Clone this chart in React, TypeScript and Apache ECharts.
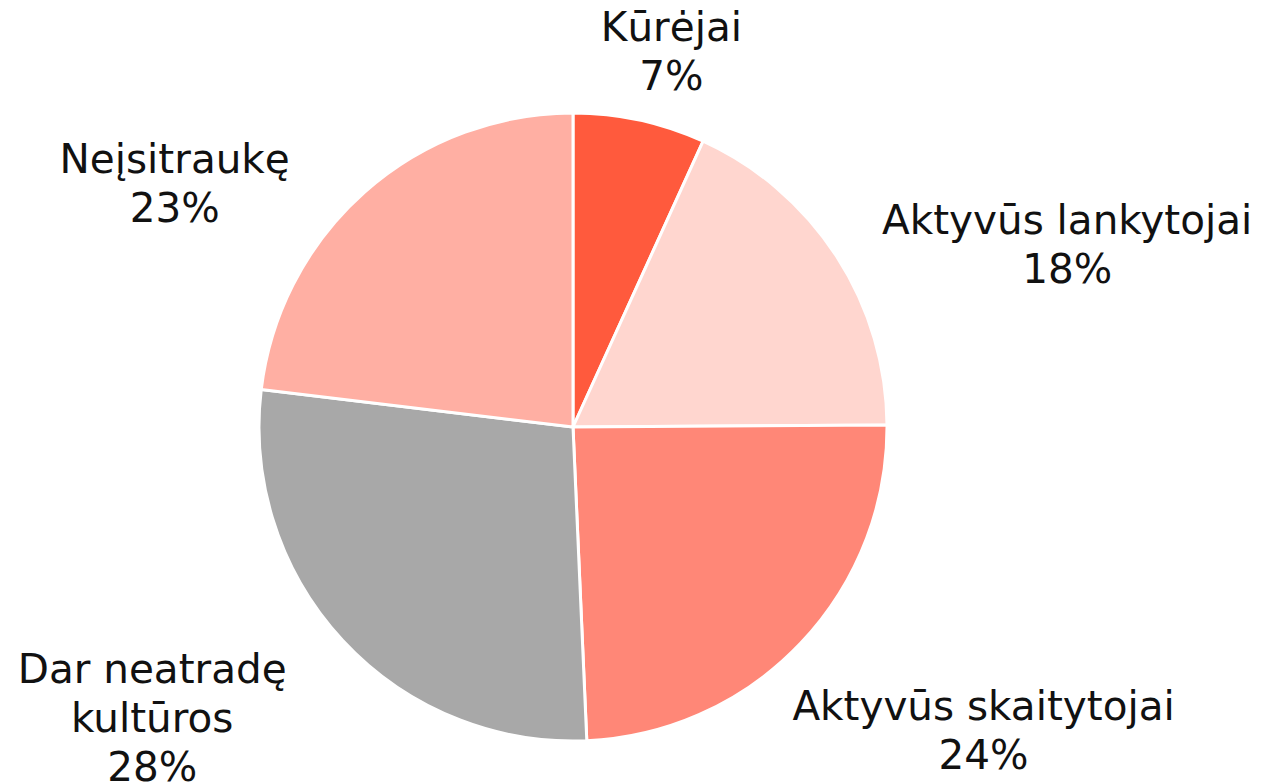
import React, { useEffect, useRef } from "react";
import * as echarts from "echarts";

// Category labels (display lines) and values (%), clockwise from the top
const categories = ["Kūrėjai", "Aktyvūs lankytojai", "Aktyvūs skaitytojai", "Dar neatradę\nkultūros", "Neįsitraukę"];
const values = [6.8, 18.1, 24.4, 27.6, 23.1];
const colors = ["#FF5A3D", "#FFD6CF", "#FF8777", "#A8A8A8", "#FFAFA3"];
// per-slice label offsets (radial length, horizontal length)
const labelLen = [70, 21, 127, 114, 12];
const labelLen2 = [17, 213, 91, 107, 182];

const FONT = "'DejaVu Sans', Inter, sans-serif";

export default function App() {
  const ref = useRef<HTMLDivElement>(null);
  useEffect(() => {
    document.body.style.margin = "0";
    const chart = echarts.init(ref.current!, null, { renderer: "svg" });
    chart.setOption({
      animation: false,
      backgroundColor: "#ffffff",
      series: [
        {
          type: "pie",
          center: [573, 427],
          radius: 314,
          startAngle: 90,
          clockwise: true,
          avoidLabelOverlap: false,
          itemStyle: { borderColor: "#ffffff", borderWidth: 3 },
          label: {
            show: true,
            position: "outside",
            distanceToLabelLine: 0,
            fontFamily: FONT,
            formatter: (p: any) =>
              String(p.name)
                .split("\n")
                .map((s: string) => `{a|${s}}`)
                .join("\n") + `\n{a|${Math.round(p.value)}%}`,
            rich: {
              a: {
                fontFamily: FONT,
                fontSize: 40.5,
                lineHeight: 49,
                color: "#111111",
                align: "center",
              },
            },
          },
          labelLine: { show: false },
          labelLayout: () => ({ align: "center", verticalAlign: "middle" }),
          emphasis: { disabled: true },
          data: categories.map((name, i) => ({
            name,
            value: values[i],
            itemStyle: { color: colors[i] },
            labelLine: { show: false, length: labelLen[i], length2: labelLen2[i] },
          })),
        },
      ],
    });
    return () => chart.dispose();
  }, []);
  return <div ref={ref} style={{ width: 1263, height: 782 }} />;
}
